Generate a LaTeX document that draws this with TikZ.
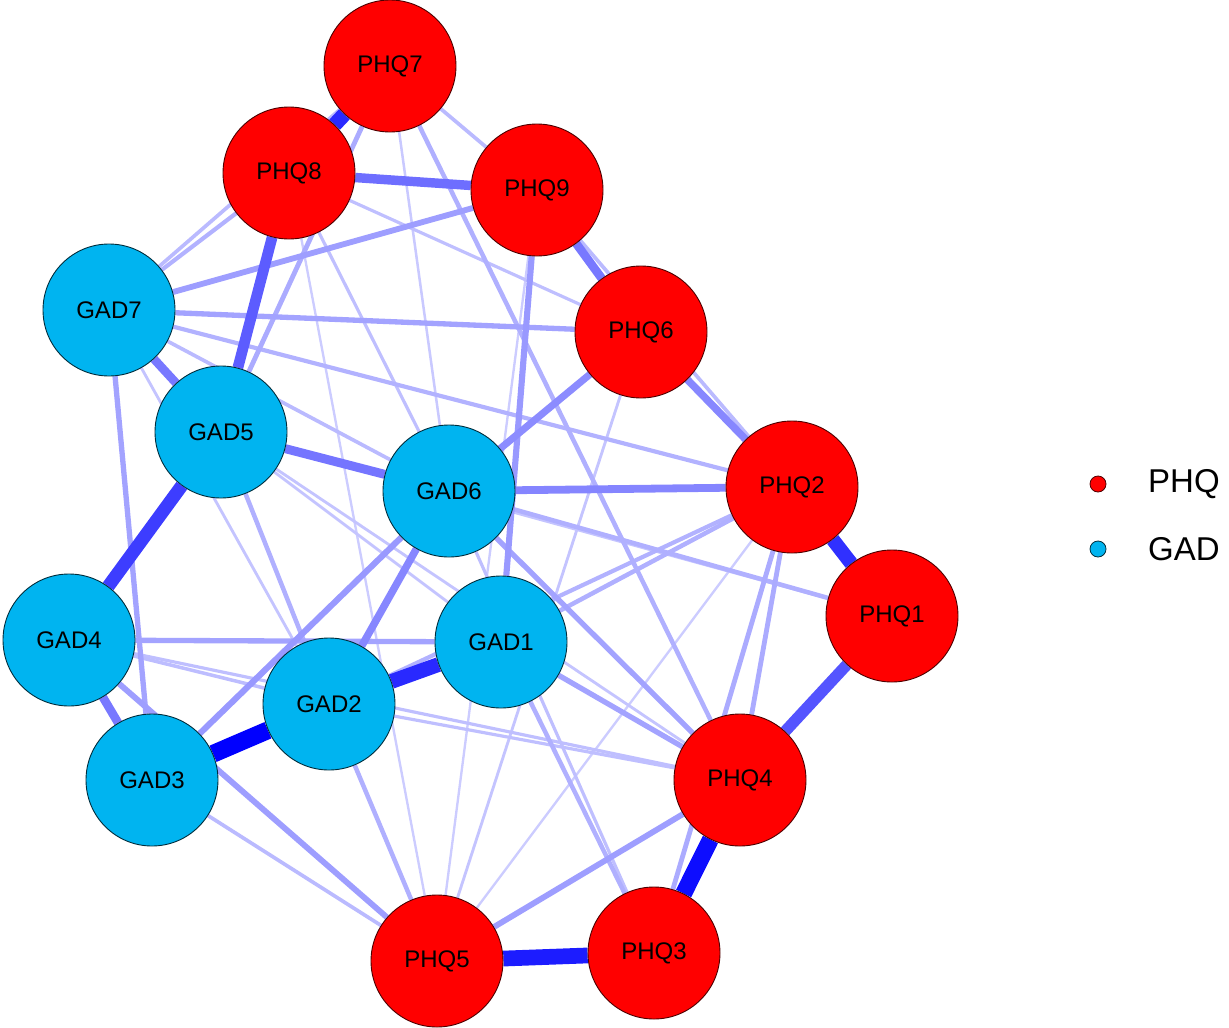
\documentclass[tikz,border=0pt]{standalone}
\usepackage{fontspec}
\setmainfont{Liberation Sans}
\usetikzlibrary{backgrounds}
\definecolor{phqred}{RGB}{255,0,0}
\definecolor{gadblue}{RGB}{0,180,240}
\definecolor{edgeblue}{RGB}{0,0,255}
\tikzset{
  phq/.style={circle, minimum size=132pt, inner sep=0pt, fill=phqred, draw=black!70!red, line width=0.9pt, font=\fontsize{24}{28}\selectfont},
  gad/.style={circle, minimum size=132pt, inner sep=0pt, fill=gadblue, draw=black!75!gadblue, line width=0.9pt, font=\fontsize{24}{28}\selectfont},
  legdot/.style={circle, minimum size=16pt, inner sep=0pt, line width=0.8pt},
  legtext/.style={anchor=west, inner sep=0pt, font=\fontsize{33}{37}\selectfont}
}
\begin{document}
\begin{tikzpicture}[x=1pt,y=-1pt]
\useasboundingbox (0,0) rectangle (1229,1028);
% nodes
\node[phq] (PHQ7) at (390,66) {PHQ7};
\node[phq] (PHQ8) at (289,173) {PHQ8};
\node[phq] (PHQ9) at (537,190) {PHQ9};
\node[gad] (GAD7) at (109,310) {GAD7};
\node[phq] (PHQ6) at (641,332) {PHQ6};
\node[gad] (GAD5) at (221,432) {GAD5};
\node[gad] (GAD6) at (449,491) {GAD6};
\node[phq] (PHQ2) at (792,487) {PHQ2};
\node[phq] (PHQ1) at (892,616) {PHQ1};
\node[gad] (GAD4) at (69,640) {GAD4};
\node[gad] (GAD1) at (501,642) {GAD1};
\node[gad] (GAD2) at (329,704) {GAD2};
\node[gad] (GAD3) at (152,780) {GAD3};
\node[phq] (PHQ4) at (740,780) {PHQ4};
\node[phq] (PHQ3) at (654,953) {PHQ3};
\node[phq] (PHQ5) at (437,961) {PHQ5};
% legend
\node[legdot, fill=phqred, draw=black!70!red] (LP) at (1098,484) {};
\node[legtext] (LPT) at (1148,484) {PHQ};
\node[legdot, fill=gadblue, draw=black!75!gadblue] (LG) at (1098,549) {};
\node[legtext] (LGT) at (1148,549) {GAD};
% edges
\begin{pgfonlayer}{background}
\foreach \a/\b/\w in {
 PHQ5/PHQ2/0.07, PHQ5/PHQ9/0.07, PHQ8/PHQ5/0.07,
 PHQ7/GAD6/0.08, PHQ6/PHQ5/0.10, GAD7/GAD2/0.10, GAD5/PHQ1/0.10, GAD5/PHQ4/0.10,
 GAD5/GAD1/0.10, PHQ8/PHQ6/0.12, PHQ8/GAD6/0.12, PHQ3/GAD6/0.12, GAD4/PHQ4/0.12,
 GAD2/PHQ4/0.12, GAD4/GAD2/0.14, PHQ9/PHQ2/0.15, PHQ7/GAD7/0.15, PHQ7/PHQ9/0.15,
 GAD7/GAD6/0.15, GAD3/PHQ5/0.15, PHQ8/GAD7/0.18, GAD7/PHQ2/0.18, GAD2/PHQ2/0.18,
 GAD1/PHQ2/0.20, GAD5/GAD2/0.20, GAD2/PHQ5/0.20, PHQ3/GAD1/0.20, GAD6/PHQ1/0.20,
 PHQ7/PHQ4/0.20, PHQ7/GAD5/0.22, PHQ2/PHQ4/0.22, PHQ2/PHQ3/0.22, GAD7/PHQ6/0.25,
 GAD7/GAD3/0.25, GAD4/GAD1/0.25, GAD6/PHQ4/0.25, GAD1/PHQ4/0.25, PHQ9/GAD7/0.28,
 GAD4/PHQ5/0.28, PHQ5/PHQ4/0.28, PHQ9/GAD1/0.30, GAD3/GAD6/0.30, GAD6/PHQ6/0.36,
 GAD6/GAD2/0.38, PHQ6/PHQ2/0.38, GAD6/PHQ2/0.40, GAD7/GAD5/0.45, PHQ9/PHQ6/0.45,
 GAD4/GAD3/0.45, GAD5/GAD6/0.47, PHQ8/PHQ9/0.50, PHQ8/GAD5/0.58, PHQ1/PHQ4/0.62,
 GAD4/GAD5/0.72, PHQ1/PHQ2/0.78, GAD1/GAD2/0.82, PHQ7/PHQ8/0.82, PHQ3/PHQ5/0.88,
 PHQ3/PHQ4/0.95, GAD2/GAD3/1.00}
{
  \pgfmathsetmacro\lw{1.2+16.5*\w}
  \pgfmathtruncatemacro\cc{15+85*\w}
  \draw[line width=\lw pt, draw=edgeblue!\cc!white] (\a) -- (\b);
}
\end{pgfonlayer}
\end{tikzpicture}
\end{document}
